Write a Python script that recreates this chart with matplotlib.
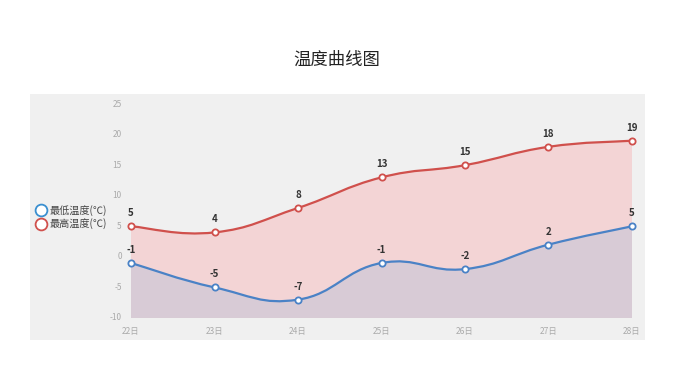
import matplotlib.pyplot as plt
import numpy as np
from matplotlib.path import Path
from matplotlib.patches import PathPatch
from matplotlib.lines import Line2D

plt.rcParams['font.family'] = ['Noto Sans CJK SC', 'DejaVu Sans']

days = ['22日', '23日', '24日', '25日', '26日', '27日', '28日']
low = [-1, -5, -7, -1, -2, 2, 5]
high = [5, 4, 8, 13, 15, 18, 19]
yticks = [-10, -5, 0, 5, 10, 15, 20, 25]

red = '#d0504c'
blue = '#4a82c6'


def smooth_path(xs, ys, t=0.22):
    # cubic bezier through the points, echarts-like smoothing
    pts = np.column_stack([xs, ys]).astype(float)
    verts = [pts[0]]
    codes = [Path.MOVETO]
    n = len(pts)
    for i in range(n - 1):
        p0 = pts[i - 1] if i > 0 else pts[i]
        p1 = pts[i]
        p2 = pts[i + 1]
        p3 = pts[i + 2] if i + 2 < n else pts[i + 1]
        c1 = p1 + (p2 - p0) * t
        c2 = p2 - (p3 - p1) * t
        verts += [c1, c2, p2]
        codes += [Path.CURVE4] * 3
    return verts, codes


fig = plt.figure(figsize=(6.83, 3.65), dpi=100)
ax = fig.add_axes([30 / 683, 1 - 340 / 365, 615 / 683, 246 / 365])
ax.set_facecolor('#f0f0f0')
ax.set_xlim(-1.21, 6.156)
ax.set_ylim(-13.6, 26.64)
for s in ax.spines.values():
    s.set_visible(False)
ax.set_xticks([])
ax.set_yticks([])

x = np.arange(len(days))
base = yticks[0]
for vals, line_c, fill_c in [(high, red, '#f3d4d5'), (low, blue, '#d8cbd6')]:
    verts, codes = smooth_path(x, vals)
    fverts = verts + [(x[-1], base), (x[0], base), verts[0]]
    fcodes = codes + [Path.LINETO, Path.LINETO, Path.CLOSEPOLY]
    ax.add_patch(PathPatch(Path(fverts, fcodes), facecolor=fill_c, edgecolor='none'))
    ax.add_patch(PathPatch(Path(verts, codes), facecolor='none', edgecolor=line_c, lw=1.6))
    ax.plot(x, vals, 'o', ms=4.5, mfc='white', mec=line_c, mew=1.3, zorder=5)
    for xi, v in zip(x, vals):
        ax.text(xi, v + 1.3, str(v), ha='center', va='bottom', fontsize=7,
                fontweight='bold', color='#333333', zorder=6)

for yt in yticks:
    ax.text(-0.11, yt, str(yt), ha='right', va='center', fontsize=6, color='#aaaaaa')
for xi, d in zip(x, days):
    ax.text(xi, -12.2, d, ha='center', va='center', fontsize=6, color='#aaaaaa')

handles = [Line2D([], [], ls='none', marker='o', ms=8.5, mfc='white', mec='#3a8fd0', mew=1.3),
           Line2D([], [], ls='none', marker='o', ms=8.5, mfc='white', mec=red, mew=1.3)]
ax.legend(handles, ['最低温度(℃)', '最高温度(℃)'], loc='center left',
          bbox_to_anchor=(-0.002, 0.5), frameon=False, fontsize=7.3,
          labelcolor='#444444', handletextpad=0.3, labelspacing=0.25,
          handlelength=1.0, borderpad=0.2)

fig.text(337 / 683, 1 - 60 / 365, '温度曲线图', ha='center', va='center',
         fontsize=12.5, color='#222222')

fig.savefig('out.png', dpi=100, facecolor='white')
